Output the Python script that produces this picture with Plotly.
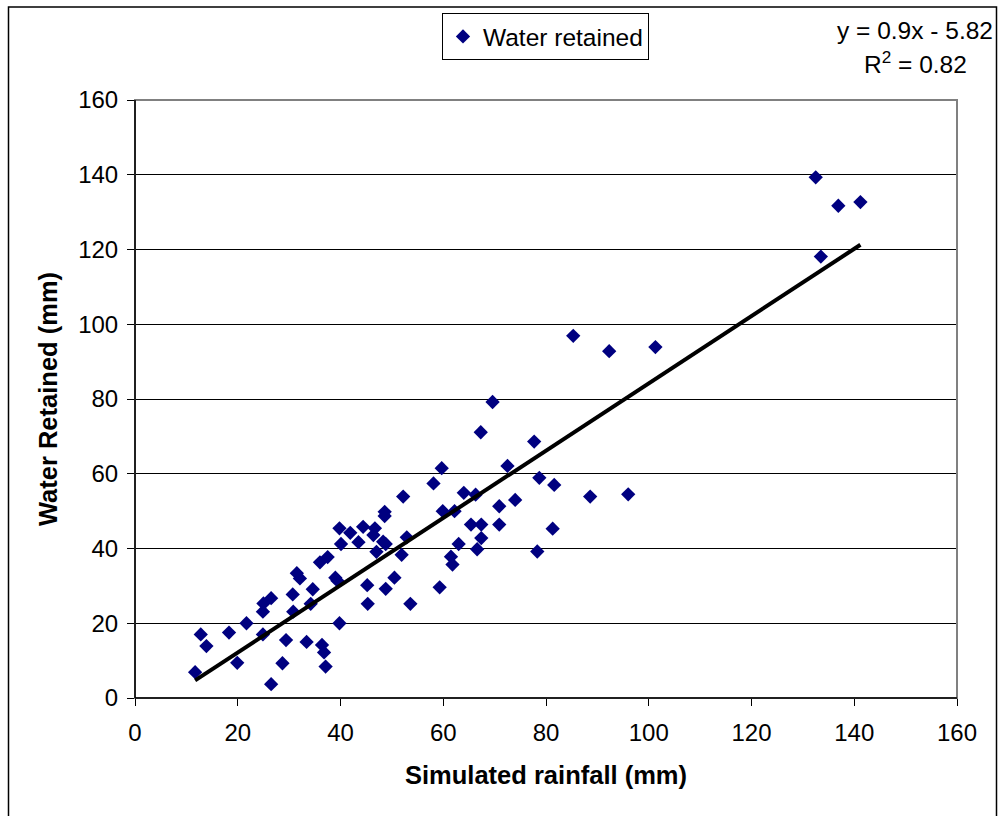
import plotly.graph_objects as go

# Simulated rainfall (mm) vs water retained (mm)
rainfall = [11.7, 12.8, 13.9, 18.3, 19.9, 21.7, 24.9, 25.0, 26.5, 24.9,
            26.5, 28.7, 29.4, 30.7, 30.8, 31.5, 32.1, 33.4, 34.2, 34.6,
            36.4, 36.8, 37.1, 36.0, 37.5, 39.0, 39.4, 39.8, 39.8, 40.1,
            41.9, 43.5, 44.4, 45.2, 45.3, 46.4, 46.7, 47.0, 48.3, 48.8,
            48.6, 48.6, 48.8, 50.5, 51.9, 52.2, 52.9, 53.6, 58.1, 59.3,
            59.7, 59.9, 61.5, 61.8, 62.2, 63.0, 64.0, 65.4, 66.3, 66.6,
            67.3, 67.4, 67.4, 69.6, 70.9, 70.9, 72.5, 74.0, 77.7, 78.3,
            78.7, 81.3, 81.6, 85.3, 88.6, 92.3, 96.0, 101.3, 132.5, 133.5,
            136.9, 141.2]
retained = [6.9, 17.0, 13.9, 17.5, 9.4, 20.0, 23.1, 25.3, 26.7, 17.0,
            3.7, 9.3, 15.5, 27.7, 23.1, 33.4, 32.0, 15.0, 25.2, 29.1,
            14.2, 12.2, 8.4, 36.3, 37.7, 32.2, 31.4, 20.0, 45.4, 41.2,
            44.2, 41.7, 45.8, 30.2, 25.2, 43.6, 45.4, 39.1, 41.8, 41.2,
            49.8, 48.7, 29.2, 32.2, 38.3, 53.9, 43.0, 25.2, 57.4, 29.6,
            61.5, 50.0, 37.8, 35.7, 50.0, 41.2, 54.9, 46.4, 54.4, 39.8,
            71.1, 46.4, 42.8, 79.2, 51.3, 46.4, 62.1, 53.0, 68.6, 39.2,
            58.9, 45.3, 57.0, 96.9, 53.9, 92.8, 54.5, 93.9, 139.3, 118.1,
            131.7, 132.7]

slope = 0.9
intercept = -5.82
r_squared = 0.82

axis_ticks = [0, 20, 40, 60, 80, 100, 120, 140, 160]

trend_x = [min(rainfall), max(rainfall)]
trend_y = [slope * v + intercept for v in trend_x]

FONT = "Liberation Sans, Arial, sans-serif"
TICK = 24
TXT = 24.5
TITLE = 25.5

fig = go.Figure()
fig.add_trace(go.Scatter(
    x=rainfall, y=retained, mode="markers", name="Water retained",
    marker=dict(symbol="diamond", size=11, color="#000080",
                line=dict(width=0)),
))
fig.add_trace(go.Scatter(
    x=trend_x, y=trend_y, mode="lines", showlegend=False,
    line=dict(color="black", width=4),
))

fig.update_layout(
    width=1002, height=816,
    margin=dict(l=135, r=45, t=100, b=118),
    paper_bgcolor="white", plot_bgcolor="white",
    font=dict(family=FONT, size=TICK, color="black"),
    showlegend=True,
    legend=dict(
        x=(442 - 135) / 822, y=(698 - 13) / 598,
        xanchor="left", yanchor="top",
        bordercolor="black", borderwidth=1, bgcolor="white",
        font=dict(family=FONT, size=TXT, color="black"),
        itemwidth=30,
    ),
    xaxis=dict(
        range=[0, 160], tickvals=axis_ticks, ticktext=[str(t) for t in axis_ticks],
        showgrid=False, zeroline=False,
        showline=True, linecolor="black", linewidth=1,
        ticks="outside", ticklen=7, tickcolor="black",
        ticklabelstandoff=6,
        tickfont=dict(family=FONT, size=TICK, color="black"),
        title=dict(text="<b>Simulated rainfall (mm)</b>",
                   font=dict(family=FONT, size=TITLE, color="black"), standoff=21),
    ),
    yaxis=dict(
        range=[0, 160], tickvals=axis_ticks, ticktext=[str(t) for t in axis_ticks],
        showgrid=True, gridcolor="black", gridwidth=1, zeroline=False,
        showline=True, linecolor="black", linewidth=1,
        ticks="outside", ticklen=7, tickcolor="black",
        ticklabelstandoff=4,
        tickfont=dict(family=FONT, size=TICK, color="black"),
        title=dict(text="<b>Water Retained (mm)</b>",
                   font=dict(family=FONT, size=TITLE, color="black"), standoff=13),
    ),
    shapes=[
        # plot-area border (gray top/right)
        dict(type="rect", xref="paper", yref="paper", x0=0, y0=0, x1=1, y1=1,
             line=dict(color="#808080", width=2), layer="above"),
        # outer chart border
        dict(type="rect", xref="paper", yref="paper",
             x0=(8.5 - 135) / 822, x1=(996.5 - 135) / 822,
             y0=(698 - 830) / 598, y1=(698 - 7) / 598,
             line=dict(color="black", width=1.5), layer="above"),
    ],
    annotations=[
        dict(text="y = 0.9x - 5.82", xref="paper", yref="paper",
             x=(995 - 135) / 822, y=(698 - 30) / 598, xanchor="right", yanchor="middle",
             showarrow=False, font=dict(family=FONT, size=TXT, color="black")),
        dict(text="R<sup>2</sup> = 0.82", xref="paper", yref="paper",
             x=(969 - 135) / 822, y=(698 - 63) / 598, xanchor="right", yanchor="middle",
             showarrow=False, font=dict(family=FONT, size=TXT, color="black")),
    ],
)

# redraw left/bottom axis lines in black over the gray border
fig.add_shape(type="line", xref="paper", yref="paper", x0=0, y0=0, x1=1, y1=0,
              line=dict(color="black", width=1.5), layer="above")
fig.add_shape(type="line", xref="paper", yref="paper", x0=0, y0=0, x1=0, y1=1,
              line=dict(color="black", width=1.5), layer="above")

fig.write_html("out.html")
